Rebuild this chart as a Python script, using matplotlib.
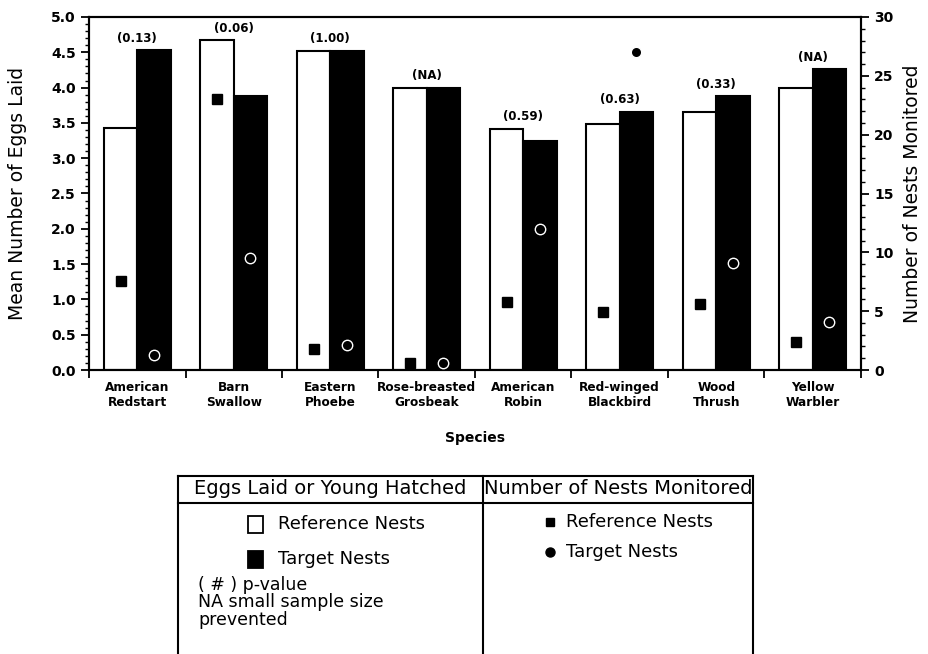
import matplotlib.pyplot as plt
from matplotlib.patches import Rectangle
from matplotlib.lines import Line2D
from matplotlib.ticker import MultipleLocator, FixedLocator, NullFormatter
import numpy as np

plt.rcParams['font.family'] = ['DejaVu Sans']

# Data
species = ['American\nRedstart', 'Barn\nSwallow', 'Eastern\nPhoebe', 'Rose-breasted\nGrosbeak',
           'American\nRobin', 'Red-winged\nBlackbird', 'Wood\nThrush', 'Yellow\nWarbler']
ref_eggs = [3.43, 4.67, 4.52, 4.00, 3.42, 3.48, 3.66, 4.00]
tgt_eggs = [4.53, 3.88, 4.52, 4.00, 3.24, 3.66, 3.88, 4.26]
p_values = ['(0.13)', '(0.06)', '(1.00)', '(NA)', '(0.59)', '(0.63)', '(0.33)', '(NA)']
ref_nests = [7.6, 23.0, 1.8, 0.6, 5.8, 4.9, 5.6, 2.4]
tgt_nests = [1.3, 9.5, 2.1, 0.6, 12.0, 27.0, 9.1, 4.1]

W, H = 929, 654
fig = plt.figure(figsize=(W / 100, H / 100), dpi=100)
ax = fig.add_axes([89 / W, 1 - 370 / H, 772 / W, 353 / H])

x = np.arange(len(species))
bw = 0.345

# sloupce - vajicka
ax.bar(x - bw / 2, ref_eggs, bw, color='white', edgecolor='black', linewidth=1.5, zorder=2)
ax.bar(x + bw / 2, tgt_eggs, bw, color='black', edgecolor='black', linewidth=1.5, zorder=2)

# p-hodnoty nad skupinami
for i in range(len(species)):
    top = max(ref_eggs[i], tgt_eggs[i])
    ax.text(x[i], top + 0.17, p_values[i], ha='center', va='center',
            fontsize=8.5, fontweight='bold')

ax.set_xlim(-0.5, len(species) - 0.5)
ax.set_ylim(0, 5)
ax.yaxis.set_major_locator(MultipleLocator(0.5))
ax.yaxis.set_minor_locator(MultipleLocator(0.1))
ax.yaxis.set_major_formatter(plt.FormatStrFormatter('%.1f'))

# x osa: carky na hranicich skupin, popisky uprostred
ax.xaxis.set_major_locator(FixedLocator(np.arange(len(species) + 1) - 0.5))
ax.xaxis.set_major_formatter(NullFormatter())
ax.xaxis.set_minor_locator(FixedLocator(x))
ax.set_xticklabels(species, minor=True, fontsize=8.7, fontweight='bold')
ax.tick_params(axis='x', which='major', direction='out', length=6, width=1.3)
ax.tick_params(axis='x', which='minor', length=0, pad=8)
ax.tick_params(axis='y', which='major', direction='out', length=6, width=1.3,
               labelsize=10)
ax.tick_params(axis='y', which='minor', direction='out', length=3, width=1.0)
for lab in ax.get_yticklabels():
    lab.set_fontweight('bold')

ax.set_ylabel('Mean Number of Eggs Laid', fontsize=13.5)
ax.yaxis.set_label_coords(-0.08, 0.5)
ax.set_xlabel('Species', fontsize=10, fontweight='bold', labelpad=16)

# druha osa - pocet hnizd
ax2 = ax.twinx()
ax2.set_ylim(0, 30)
ax2.yaxis.set_major_locator(MultipleLocator(5))
ax2.yaxis.set_minor_locator(MultipleLocator(1))
ax2.tick_params(axis='y', which='major', direction='out', length=6, width=1.3, labelsize=10)
ax2.tick_params(axis='y', which='minor', direction='out', length=3, width=1.0)
for lab in ax2.get_yticklabels():
    lab.set_fontweight('bold')
ax2.set_ylabel('Number of Nests Monitored', fontsize=13.5)
ax2.yaxis.set_label_coords(1.055, 0.5)

ax2.plot(x - bw / 2, ref_nests, 's', color='black', markersize=6.5, linestyle='none', zorder=3)
ax2.plot(x + bw / 2, tgt_nests, 'o', markerfacecolor='black', markeredgecolor='white',
         markeredgewidth=1.0, markersize=7.5, linestyle='none', zorder=3)

for a in (ax, ax2):
    for s in a.spines.values():
        s.set_linewidth(1.5)

# legenda jako tabulka pod grafem (v pixelech obrazku)
lax = fig.add_axes([0, 0, 1, 1])
lax.set_xlim(0, W)
lax.set_ylim(H, 0)
lax.axis('off')

L, R, T, MID, HDR = 178, 753, 476, 483, 503
for xs, ys in [([L, R], [T, T]), ([L, R], [HDR, HDR]), ([L, L], [T, H]),
               ([R, R], [T, H]), ([MID, MID], [T, H])]:
    lax.add_line(Line2D(xs, ys, color='black', linewidth=1.5))

lax.text((L + MID) / 2, 489, 'Eggs Laid or Young Hatched', ha='center', va='center', fontsize=14)
lax.text((MID + R) / 2, 489, 'Number of Nests Monitored', ha='center', va='center', fontsize=14)

lax.add_patch(Rectangle((248, 516), 15, 17, facecolor='white', edgecolor='black', linewidth=1.3))
lax.text(278, 524, 'Reference Nests', ha='left', va='center', fontsize=13)
lax.add_patch(Rectangle((248, 551), 15, 17, facecolor='black', edgecolor='black', linewidth=1.3))
lax.text(278, 559, 'Target Nests', ha='left', va='center', fontsize=13)
lax.text(198, 576, '( # ) p-value\nNA small sample size\nprevented', ha='left', va='top',
         fontsize=12.5, linespacing=0.95)

lax.plot([550], [522], 's', color='black', markersize=6)
lax.text(566, 522, 'Reference Nests', ha='left', va='center', fontsize=13)
lax.plot([550], [552], 'o', color='black', markersize=6.5)
lax.text(566, 552, 'Target Nests', ha='left', va='center', fontsize=13)

fig.savefig('out.png', dpi=100)
